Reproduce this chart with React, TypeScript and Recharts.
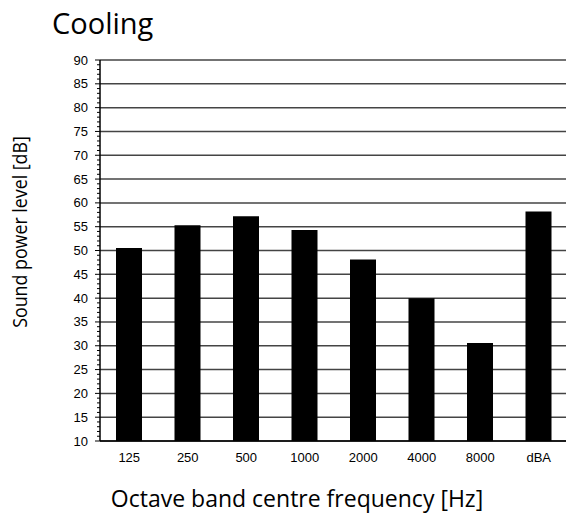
import React from 'react';
import { BarChart, Bar, XAxis, YAxis, CartesianGrid } from 'recharts';

const bands = ['125', '250', '500', '1000', '2000', '4000', '8000', 'dBA'];
const levels = [50.5, 55.3, 57.2, 54.3, 48.1, 40.0, 30.6, 58.2];
const majorTicks = [10, 15, 20, 25, 30, 35, 40, 45, 50, 55, 60, 65, 70, 75, 80, 85, 90];
const minorTicks = Array.from({ length: 81 }, (_, i) => 10 + i);

const data = bands.map((band, i) => ({ band, level: levels[i] }));

const Y_MIN = 10;
const Y_MAX = 90;

const YTick = (props: any) => {
  const { x, y, payload } = props;
  const v = payload.value;
  const major = v % 5 === 0;
  return (
    <g>
      <line x1={x - (major ? 5 : 3)} x2={x} y1={y} y2={y} stroke="#000" strokeWidth={1} />
      {major && (
        <text x={x - 12} y={y} dy="0.35em" textAnchor="end" fontSize={13} fill="#000" fontFamily="Liberation Sans, Arial, sans-serif">
          {v}
        </text>
      )}
    </g>
  );
};

const App: React.FC = () => {
  return (
    <div style={{ position: 'absolute', left: 0, top: 0, width: 566, height: 515, overflow: 'hidden', background: '#fff' }}>
      <div style={{ position: 'absolute', left: 52, top: 4, fontFamily: 'Open Sans, sans-serif', fontSize: 29, color: '#000', lineHeight: '38px' }}>
        Cooling
      </div>
      <BarChart
        width={568}
        height={515}
        data={data}
        margin={{ top: 60, right: 0, bottom: 44, left: 40 }}
        barSize={26}
      >
        <CartesianGrid
          vertical={false}
          stroke="#444"
          strokeWidth={1.5}
          horizontalCoordinatesGenerator={({ offset }: any) =>
            majorTicks.map((v) => offset.top + ((Y_MAX - v) / (Y_MAX - Y_MIN)) * offset.height)
          }
        />
        <XAxis
          dataKey="band"
          height={30}
          tickLine={false}
          tickSize={0}
          tickMargin={12}
          axisLine={{ stroke: '#000', strokeWidth: 1.5 }}
          tick={{ fontSize: 13, fill: '#000', fontFamily: 'Liberation Sans, Arial, sans-serif' }}
        />
        <YAxis
          type="number"
          domain={[Y_MIN, Y_MAX]}
          ticks={minorTicks}
          interval={0}
          width={60}
          tickLine={false}
          tickSize={0}
          tickMargin={0}
          axisLine={{ stroke: '#000', strokeWidth: 1.5 }}
          tick={<YTick />}
        />
        <Bar dataKey="level" fill="#000" isAnimationActive={false} />
      </BarChart>
      <div style={{ position: 'absolute', left: 19, top: 232, transform: 'translate(-50%, -50%) rotate(-90deg) scaleX(0.89)', whiteSpace: 'nowrap', fontFamily: 'Open Sans, sans-serif', fontSize: 20, color: '#000' }}>
        Sound power level [dB]
      </div>
      <div style={{ position: 'absolute', left: 297, top: 498, transform: 'translate(-50%, -50%)', whiteSpace: 'nowrap', fontFamily: 'Open Sans, sans-serif', fontSize: 23, color: '#000' }}>
        Octave band centre frequency [Hz]
      </div>
    </div>
  );
};

export default App;
